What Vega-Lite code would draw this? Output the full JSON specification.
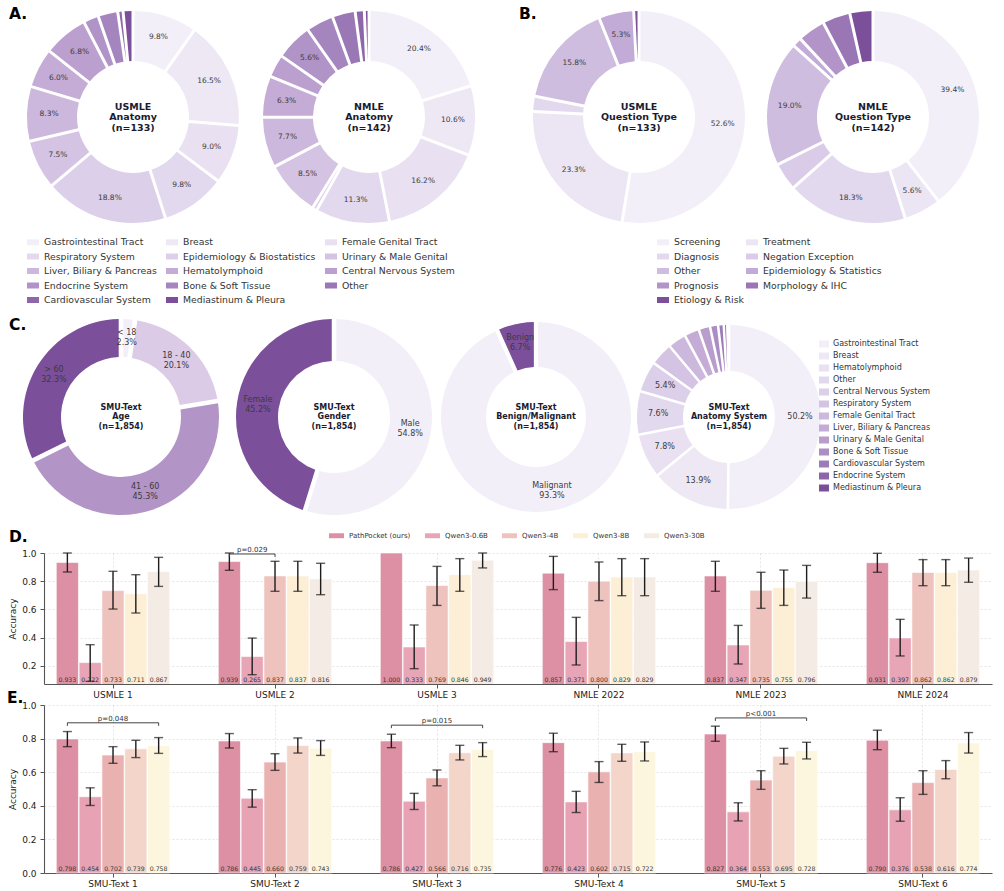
{
  "$schema": "https://vega.github.io/schema/vega-lite/v6.json",
  "padding": {"left": 7, "top": 2, "right": 4, "bottom": 2},
  "background": "white",
  "config": {
    "font": "DejaVu Sans",
    "view": {"stroke": null},
    "title": {"fontWeight": "bold", "color": "#000000", "fontSize": 15.5},
    "axis": {"labelFontSize": 9, "titleFontSize": 9, "titleFontWeight": "normal", "labelColor": "#222222", "titleColor": "#222222", "domainColor": "#555555", "domainWidth": 1.1, "tickColor": "#555555", "tickSize": 4, "gridColor": "#d4d4d4", "gridDash": [2, 2], "gridWidth": 0.6},
    "legend": {"labelColor": "#333333", "symbolStrokeWidth": 0, "symbolOpacity": 1}
  },
  "datasets": {
    "usmleAnat": [
      {"cat": "Gastrointestinal Tract", "share": 0.098},
      {"cat": "Breast", "share": 0.165},
      {"cat": "Female Genital Tract", "share": 0.090},
      {"cat": "Respiratory System", "share": 0.098},
      {"cat": "Epidemiology & Biostatistics", "share": 0.188},
      {"cat": "Urinary & Male Genital", "share": 0.075},
      {"cat": "Liver, Biliary & Pancreas", "share": 0.083},
      {"cat": "Hematolymphoid", "share": 0.060},
      {"cat": "Central Nervous System", "share": 0.068},
      {"cat": "Endocrine System", "share": 0.023},
      {"cat": "Bone & Soft Tissue", "share": 0.030},
      {"cat": "Cardiovascular System", "share": 0.008},
      {"cat": "Mediastinum & Pleura", "share": 0.015}
    ],
    "nmleAnat": [
      {"cat": "Gastrointestinal Tract", "share": 0.204},
      {"cat": "Breast", "share": 0.106},
      {"cat": "Female Genital Tract", "share": 0.162},
      {"cat": "Respiratory System", "share": 0.113},
      {"cat": "Epidemiology & Biostatistics", "share": 0.007},
      {"cat": "Urinary & Male Genital", "share": 0.085},
      {"cat": "Liver, Biliary & Pancreas", "share": 0.077},
      {"cat": "Hematolymphoid", "share": 0.063},
      {"cat": "Central Nervous System", "share": 0.035},
      {"cat": "Endocrine System", "share": 0.056},
      {"cat": "Bone & Soft Tissue", "share": 0.042},
      {"cat": "Other", "share": 0.035},
      {"cat": "Cardiovascular System", "share": 0.014},
      {"cat": "Mediastinum & Pleura", "share": 0.007}
    ],
    "usmleQT": [
      {"cat": "Screening", "share": 0.526},
      {"cat": "Treatment", "share": 0.233},
      {"cat": "Diagnosis", "share": 0.023},
      {"cat": "Other", "share": 0.158},
      {"cat": "Epidemiology & Statistics", "share": 0.053},
      {"cat": "Etiology & Risk", "share": 0.008}
    ],
    "nmleQT": [
      {"cat": "Screening", "share": 0.394},
      {"cat": "Treatment", "share": 0.056},
      {"cat": "Diagnosis", "share": 0.183},
      {"cat": "Negation Exception", "share": 0.042},
      {"cat": "Other", "share": 0.190},
      {"cat": "Epidemiology & Statistics", "share": 0.014},
      {"cat": "Prognosis", "share": 0.042},
      {"cat": "Morphology & IHC", "share": 0.042},
      {"cat": "Etiology & Risk", "share": 0.035}
    ],
    "age": [
      {"cat": "< 18", "share": 0.023},
      {"cat": "18 - 40", "share": 0.201},
      {"cat": "41 - 60", "share": 0.453},
      {"cat": "> 60", "share": 0.323}
    ],
    "gender": [
      {"cat": "Male", "share": 0.548},
      {"cat": "Female", "share": 0.452}
    ],
    "benign": [
      {"cat": "Malignant", "share": 0.933},
      {"cat": "Benign", "share": 0.067}
    ],
    "smuAnat": [
      {"cat": "Gastrointestinal Tract", "share": 0.502},
      {"cat": "Breast", "share": 0.139},
      {"cat": "Hematolymphoid", "share": 0.078},
      {"cat": "Other", "share": 0.076},
      {"cat": "Central Nervous System", "share": 0.054},
      {"cat": "Respiratory System", "share": 0.040},
      {"cat": "Female Genital Tract", "share": 0.032},
      {"cat": "Liver, Biliary & Pancreas", "share": 0.026},
      {"cat": "Urinary & Male Genital", "share": 0.020},
      {"cat": "Bone & Soft Tissue", "share": 0.014},
      {"cat": "Cardiovascular System", "share": 0.010},
      {"cat": "Endocrine System", "share": 0.006},
      {"cat": "Mediastinum & Pleura", "share": 0.003}
    ],
    "accD": [
      {"set": "USMLE 1", "model": "PathPocket (ours)", "acc": 0.933, "lo": 0.865, "hi": 1.0},
      {"set": "USMLE 1", "model": "Qwen3-0.6B", "acc": 0.222, "lo": 0.089, "hi": 0.349},
      {"set": "USMLE 1", "model": "Qwen3-4B", "acc": 0.733, "lo": 0.602, "hi": 0.870},
      {"set": "USMLE 1", "model": "Qwen3-8B", "acc": 0.711, "lo": 0.574, "hi": 0.846},
      {"set": "USMLE 1", "model": "Qwen3-30B", "acc": 0.867, "lo": 0.763, "hi": 0.969},
      {"set": "USMLE 2", "model": "PathPocket (ours)", "acc": 0.939, "lo": 0.877, "hi": 1.0},
      {"set": "USMLE 2", "model": "Qwen3-0.6B", "acc": 0.265, "lo": 0.136, "hi": 0.396},
      {"set": "USMLE 2", "model": "Qwen3-4B", "acc": 0.837, "lo": 0.728, "hi": 0.941},
      {"set": "USMLE 2", "model": "Qwen3-8B", "acc": 0.837, "lo": 0.728, "hi": 0.941},
      {"set": "USMLE 2", "model": "Qwen3-30B", "acc": 0.816, "lo": 0.704, "hi": 0.927},
      {"set": "USMLE 3", "model": "PathPocket (ours)", "acc": 1.0, "lo": null, "hi": null},
      {"set": "USMLE 3", "model": "Qwen3-0.6B", "acc": 0.333, "lo": 0.179, "hi": 0.489},
      {"set": "USMLE 3", "model": "Qwen3-4B", "acc": 0.769, "lo": 0.628, "hi": 0.905},
      {"set": "USMLE 3", "model": "Qwen3-8B", "acc": 0.846, "lo": 0.728, "hi": 0.960},
      {"set": "USMLE 3", "model": "Qwen3-30B", "acc": 0.949, "lo": 0.894, "hi": 1.0},
      {"set": "NMLE 2022", "model": "PathPocket (ours)", "acc": 0.857, "lo": 0.740, "hi": 0.976},
      {"set": "NMLE 2022", "model": "Qwen3-0.6B", "acc": 0.371, "lo": 0.205, "hi": 0.543},
      {"set": "NMLE 2022", "model": "Qwen3-4B", "acc": 0.800, "lo": 0.662, "hi": 0.936},
      {"set": "NMLE 2022", "model": "Qwen3-8B", "acc": 0.829, "lo": 0.697, "hi": 0.960},
      {"set": "NMLE 2022", "model": "Qwen3-30B", "acc": 0.829, "lo": 0.697, "hi": 0.960},
      {"set": "NMLE 2023", "model": "PathPocket (ours)", "acc": 0.837, "lo": 0.728, "hi": 0.941},
      {"set": "NMLE 2023", "model": "Qwen3-0.6B", "acc": 0.347, "lo": 0.212, "hi": 0.486},
      {"set": "NMLE 2023", "model": "Qwen3-4B", "acc": 0.735, "lo": 0.607, "hi": 0.863},
      {"set": "NMLE 2023", "model": "Qwen3-8B", "acc": 0.755, "lo": 0.628, "hi": 0.879},
      {"set": "NMLE 2023", "model": "Qwen3-30B", "acc": 0.796, "lo": 0.680, "hi": 0.912},
      {"set": "NMLE 2024", "model": "PathPocket (ours)", "acc": 0.931, "lo": 0.863, "hi": 0.998},
      {"set": "NMLE 2024", "model": "Qwen3-0.6B", "acc": 0.397, "lo": 0.269, "hi": 0.529},
      {"set": "NMLE 2024", "model": "Qwen3-4B", "acc": 0.862, "lo": 0.768, "hi": 0.953},
      {"set": "NMLE 2024", "model": "Qwen3-8B", "acc": 0.862, "lo": 0.768, "hi": 0.953},
      {"set": "NMLE 2024", "model": "Qwen3-30B", "acc": 0.879, "lo": 0.792, "hi": 0.964}
    ],
    "accE": [
      {"set": "SMU-Text 1", "model": "PathPocket (ours)", "acc": 0.798, "lo": 0.752, "hi": 0.842},
      {"set": "SMU-Text 1", "model": "Qwen3-0.6B", "acc": 0.454, "lo": 0.402, "hi": 0.507},
      {"set": "SMU-Text 1", "model": "Qwen3-4B", "acc": 0.702, "lo": 0.653, "hi": 0.752},
      {"set": "SMU-Text 1", "model": "Qwen3-8B", "acc": 0.739, "lo": 0.687, "hi": 0.790},
      {"set": "SMU-Text 1", "model": "Qwen3-30B", "acc": 0.758, "lo": 0.712, "hi": 0.806},
      {"set": "SMU-Text 2", "model": "PathPocket (ours)", "acc": 0.786, "lo": 0.744, "hi": 0.830},
      {"set": "SMU-Text 2", "model": "Qwen3-0.6B", "acc": 0.445, "lo": 0.392, "hi": 0.496},
      {"set": "SMU-Text 2", "model": "Qwen3-4B", "acc": 0.660, "lo": 0.611, "hi": 0.710},
      {"set": "SMU-Text 2", "model": "Qwen3-8B", "acc": 0.759, "lo": 0.714, "hi": 0.804},
      {"set": "SMU-Text 2", "model": "Qwen3-30B", "acc": 0.743, "lo": 0.700, "hi": 0.788},
      {"set": "SMU-Text 3", "model": "PathPocket (ours)", "acc": 0.786, "lo": 0.746, "hi": 0.826},
      {"set": "SMU-Text 3", "model": "Qwen3-0.6B", "acc": 0.427, "lo": 0.378, "hi": 0.474},
      {"set": "SMU-Text 3", "model": "Qwen3-4B", "acc": 0.566, "lo": 0.519, "hi": 0.613},
      {"set": "SMU-Text 3", "model": "Qwen3-8B", "acc": 0.716, "lo": 0.673, "hi": 0.760},
      {"set": "SMU-Text 3", "model": "Qwen3-30B", "acc": 0.735, "lo": 0.693, "hi": 0.776},
      {"set": "SMU-Text 4", "model": "PathPocket (ours)", "acc": 0.776, "lo": 0.722, "hi": 0.832},
      {"set": "SMU-Text 4", "model": "Qwen3-0.6B", "acc": 0.423, "lo": 0.360, "hi": 0.486},
      {"set": "SMU-Text 4", "model": "Qwen3-4B", "acc": 0.602, "lo": 0.539, "hi": 0.663},
      {"set": "SMU-Text 4", "model": "Qwen3-8B", "acc": 0.715, "lo": 0.665, "hi": 0.766},
      {"set": "SMU-Text 4", "model": "Qwen3-30B", "acc": 0.722, "lo": 0.667, "hi": 0.780},
      {"set": "SMU-Text 5", "model": "PathPocket (ours)", "acc": 0.827, "lo": 0.784, "hi": 0.874},
      {"set": "SMU-Text 5", "model": "Qwen3-0.6B", "acc": 0.364, "lo": 0.310, "hi": 0.418},
      {"set": "SMU-Text 5", "model": "Qwen3-4B", "acc": 0.553, "lo": 0.498, "hi": 0.609},
      {"set": "SMU-Text 5", "model": "Qwen3-8B", "acc": 0.695, "lo": 0.649, "hi": 0.742},
      {"set": "SMU-Text 5", "model": "Qwen3-30B", "acc": 0.728, "lo": 0.679, "hi": 0.778},
      {"set": "SMU-Text 6", "model": "PathPocket (ours)", "acc": 0.790, "lo": 0.734, "hi": 0.850},
      {"set": "SMU-Text 6", "model": "Qwen3-0.6B", "acc": 0.376, "lo": 0.308, "hi": 0.448},
      {"set": "SMU-Text 6", "model": "Qwen3-4B", "acc": 0.538, "lo": 0.468, "hi": 0.609},
      {"set": "SMU-Text 6", "model": "Qwen3-8B", "acc": 0.616, "lo": 0.561, "hi": 0.669},
      {"set": "SMU-Text 6", "model": "Qwen3-30B", "acc": 0.774, "lo": 0.714, "hi": 0.836}
    ],
    "brkD": [
      {"set": "USMLE 2", "model": "PathPocket (ours)", "top": 0.993, "foot": 0.972},
      {"set": "USMLE 2", "model": "Qwen3-4B", "top": 0.993, "foot": 0.972}
    ],
    "pD": [
      {"set": "USMLE 2", "model": "Qwen3-0.6B", "top": 0.993, "p": "p=0.029"}
    ],
    "brkE": [
      {"set": "SMU-Text 1", "model": "PathPocket (ours)", "top": 0.894, "foot": 0.876},
      {"set": "SMU-Text 1", "model": "Qwen3-30B", "top": 0.894, "foot": 0.876},
      {"set": "SMU-Text 3", "model": "PathPocket (ours)", "top": 0.880, "foot": 0.862},
      {"set": "SMU-Text 3", "model": "Qwen3-30B", "top": 0.880, "foot": 0.862},
      {"set": "SMU-Text 5", "model": "PathPocket (ours)", "top": 0.923, "foot": 0.905},
      {"set": "SMU-Text 5", "model": "Qwen3-30B", "top": 0.923, "foot": 0.905}
    ],
    "pE": [
      {"set": "SMU-Text 1", "model": "Qwen3-4B", "top": 0.894, "p": "p=0.048"},
      {"set": "SMU-Text 3", "model": "Qwen3-4B", "top": 0.880, "p": "p=0.015"},
      {"set": "SMU-Text 5", "model": "Qwen3-4B", "top": 0.923, "p": "p<0.001"}
    ]
  },
  "spacing": 11,
  "resolve": {"scale": {"color": "independent"}},
  "vconcat": [
    {
      "hconcat": [
        {
          "width": 178, "height": 230,
          "title": {"text": "A.", "anchor": "start", "frame": "group", "dx": -35, "offset": -20},
          "layer": [
            {
              "data": {"name": "usmleAnat"},
              "transform": [{"window": [{"op": "row_number", "as": "k"}]}],
              "mark": {"type": "arc", "innerRadius": 56, "outerRadius": 106, "padAngle": 0.025},
              "encoding": {
                "theta": {"field": "share", "type": "quantitative", "stack": true},
                "order": {"field": "k", "type": "quantitative"},
                "color": {"field": "cat", "type": "nominal",
                  "scale": {"domain": ["Gastrointestinal Tract", "Breast", "Female Genital Tract", "Respiratory System", "Epidemiology & Biostatistics", "Urinary & Male Genital", "Liver, Biliary & Pancreas", "Hematolymphoid", "Central Nervous System", "Endocrine System", "Bone & Soft Tissue", "Other", "Cardiovascular System", "Mediastinum & Pleura"],
                    "range": ["#f3eff9", "#eee8f5", "#e9e1f2", "#e3d9ee", "#dccfe9", "#d4c3e3", "#ccb8dd", "#c4acd6", "#ba9fcf", "#b093c7", "#a585be", "#9a77b5", "#8d67aa", "#7b4f99"]},
                  "legend": {"orient": "none", "legendX": -17, "legendY": 234, "direction": "horizontal", "columns": 3, "title": null, "symbolType": "M-1,-0.5H1V0.5H-1Z", "symbolSize": 144, "labelFontSize": 9.3, "columnPadding": 9, "rowPadding": 2.5, "labelOffset": 5, "labelLimit": 300}}
              }
            },
            {
              "data": {"name": "usmleAnat"},
              "transform": [{"window": [{"op": "row_number", "as": "k"}]}],
              "mark": {"type": "text", "radius": 84, "fontSize": 7.5, "color": "#3b3b3b"},
              "encoding": {
                "theta": {"field": "share", "type": "quantitative", "stack": true},
                "order": {"field": "k", "type": "quantitative"},
                "text": {"condition": {"test": "datum.share < 0.05", "value": ""}, "field": "share", "type": "quantitative", "format": ".1%"}
              }
            },
            {
              "data": {"values": [{"label": "USMLE\nAnatomy\n(n=133)"}]},
              "mark": {"type": "text", "fontSize": 9.5, "fontWeight": "bold", "color": "#1b1b2f", "lineBreak": "\n", "lineHeight": 10.5, "dy": -10.5, "baseline": "middle"},
              "encoding": {"text": {"field": "label"}}
            }
          ]
        },
        {
          "width": 282, "height": 230,
          "layer": [
            {
              "data": {"name": "nmleAnat"},
              "transform": [{"window": [{"op": "row_number", "as": "k"}]}],
              "mark": {"type": "arc", "innerRadius": 56, "outerRadius": 106, "padAngle": 0.025},
              "encoding": {
                "theta": {"field": "share", "type": "quantitative", "stack": true},
                "order": {"field": "k", "type": "quantitative"},
                "color": {"field": "cat", "type": "nominal",
                  "scale": {"domain": ["Gastrointestinal Tract", "Breast", "Female Genital Tract", "Respiratory System", "Epidemiology & Biostatistics", "Urinary & Male Genital", "Liver, Biliary & Pancreas", "Hematolymphoid", "Central Nervous System", "Endocrine System", "Bone & Soft Tissue", "Other", "Cardiovascular System", "Mediastinum & Pleura"],
                    "range": ["#f3eff9", "#eee8f5", "#e9e1f2", "#e3d9ee", "#dccfe9", "#d4c3e3", "#ccb8dd", "#c4acd6", "#ba9fcf", "#b093c7", "#a585be", "#9a77b5", "#8d67aa", "#7b4f99"]},
                  "legend": null}
              }
            },
            {
              "data": {"name": "nmleAnat"},
              "transform": [{"window": [{"op": "row_number", "as": "k"}]}],
              "mark": {"type": "text", "radius": 84, "fontSize": 7.5, "color": "#3b3b3b"},
              "encoding": {
                "theta": {"field": "share", "type": "quantitative", "stack": true},
                "order": {"field": "k", "type": "quantitative"},
                "text": {"condition": {"test": "datum.share < 0.05", "value": ""}, "field": "share", "type": "quantitative", "format": ".1%"}
              }
            },
            {
              "data": {"values": [{"label": "NMLE\nAnatomy\n(n=142)"}]},
              "mark": {"type": "text", "fontSize": 9.5, "fontWeight": "bold", "color": "#1b1b2f", "lineBreak": "\n", "lineHeight": 10.5, "dy": -10.5, "baseline": "middle"},
              "encoding": {"text": {"field": "label"}}
            }
          ]
        },
        {
          "width": 246, "height": 230,
          "title": {"text": "B.", "anchor": "start", "frame": "group", "dx": 3, "offset": -20},
          "layer": [
            {
              "data": {"name": "usmleQT"},
              "transform": [{"window": [{"op": "row_number", "as": "k"}]}],
              "mark": {"type": "arc", "innerRadius": 56, "outerRadius": 106, "padAngle": 0.025},
              "encoding": {
                "theta": {"field": "share", "type": "quantitative", "stack": true},
                "order": {"field": "k", "type": "quantitative"},
                "color": {"field": "cat", "type": "nominal",
                  "scale": {"domain": ["Screening", "Treatment", "Diagnosis", "Negation Exception", "Other", "Epidemiology & Statistics", "Prognosis", "Morphology & IHC", "Etiology & Risk"],
                    "range": ["#f3eff9", "#ece5f4", "#e3d9ee", "#dacce8", "#cfbde0", "#c2abd6", "#b294c8", "#9a76b4", "#7b4f99"]},
                  "legend": {"orient": "none", "legendX": 141, "legendY": 234, "direction": "horizontal", "columns": 2, "title": null, "symbolType": "M-1,-0.5H1V0.5H-1Z", "symbolSize": 144, "labelFontSize": 9.3, "columnPadding": 2, "rowPadding": 2.5, "labelOffset": 5, "labelLimit": 300}}
              }
            },
            {
              "data": {"name": "usmleQT"},
              "transform": [{"window": [{"op": "row_number", "as": "k"}]}],
              "mark": {"type": "text", "radius": 84, "fontSize": 7.5, "color": "#3b3b3b"},
              "encoding": {
                "theta": {"field": "share", "type": "quantitative", "stack": true},
                "order": {"field": "k", "type": "quantitative"},
                "text": {"condition": {"test": "datum.share < 0.05", "value": ""}, "field": "share", "type": "quantitative", "format": ".1%"}
              }
            },
            {
              "data": {"values": [{"label": "USMLE\nQuestion Type\n(n=133)"}]},
              "mark": {"type": "text", "fontSize": 9.5, "fontWeight": "bold", "color": "#1b1b2f", "lineBreak": "\n", "lineHeight": 10.5, "dy": -10.5, "baseline": "middle"},
              "encoding": {"text": {"field": "label"}}
            }
          ]
        },
        {
          "width": 210, "height": 230,
          "layer": [
            {
              "data": {"name": "nmleQT"},
              "transform": [{"window": [{"op": "row_number", "as": "k"}]}],
              "mark": {"type": "arc", "innerRadius": 56, "outerRadius": 106, "padAngle": 0.025},
              "encoding": {
                "theta": {"field": "share", "type": "quantitative", "stack": true},
                "order": {"field": "k", "type": "quantitative"},
                "color": {"field": "cat", "type": "nominal",
                  "scale": {"domain": ["Screening", "Treatment", "Diagnosis", "Negation Exception", "Other", "Epidemiology & Statistics", "Prognosis", "Morphology & IHC", "Etiology & Risk"],
                    "range": ["#f3eff9", "#ece5f4", "#e3d9ee", "#dacce8", "#cfbde0", "#c2abd6", "#b294c8", "#9a76b4", "#7b4f99"]},
                  "legend": null}
              }
            },
            {
              "data": {"name": "nmleQT"},
              "transform": [{"window": [{"op": "row_number", "as": "k"}]}],
              "mark": {"type": "text", "radius": 84, "fontSize": 7.5, "color": "#3b3b3b"},
              "encoding": {
                "theta": {"field": "share", "type": "quantitative", "stack": true},
                "order": {"field": "k", "type": "quantitative"},
                "text": {"condition": {"test": "datum.share < 0.05", "value": ""}, "field": "share", "type": "quantitative", "format": ".1%"}
              }
            },
            {
              "data": {"values": [{"label": "NMLE\nQuestion Type\n(n=142)"}]},
              "mark": {"type": "text", "fontSize": 9.5, "fontWeight": "bold", "color": "#1b1b2f", "lineBreak": "\n", "lineHeight": 10.5, "dy": -10.5, "baseline": "middle"},
              "encoding": {"text": {"field": "label"}}
            }
          ]
        }
      ],
      "spacing": 6,
      "bounds": "flush",
      "resolve": {"scale": {"color": "independent"}}
    },
    {
      "hconcat": [
        {
          "width": 154, "height": 200,
          "title": {"text": "C.", "anchor": "start", "frame": "group", "dx": -35, "offset": -16},
          "layer": [
            {
              "data": {"name": "age"},
              "transform": [{"window": [{"op": "row_number", "as": "k"}]}],
              "mark": {"type": "arc", "innerRadius": 60, "outerRadius": 98, "padAngle": 0.04},
              "encoding": {
                "theta": {"field": "share", "type": "quantitative", "stack": true},
                "order": {"field": "k", "type": "quantitative"},
                "color": {"field": "cat", "type": "nominal", "scale": {"domain": ["< 18", "18 - 40", "41 - 60", "> 60"], "range": ["#f3eff9", "#dccbe6", "#b294c7", "#7b4f99"]}, "legend": null}
              }
            },
            {
              "data": {"name": "age"},
              "transform": [{"window": [{"op": "row_number", "as": "k"}]}, {"calculate": "datum.cat + '\\n' + format(datum.share, '.1%')", "as": "lbl"}],
              "mark": {"type": "text", "radius": 79, "fontSize": 8, "color": "#3b3b3b", "lineBreak": "\n", "lineHeight": 10, "dy": -5},
              "encoding": {
                "theta": {"field": "share", "type": "quantitative", "stack": true},
                "order": {"field": "k", "type": "quantitative"},
                "text": {"field": "lbl"}
              }
            },
            {
              "data": {"values": [{"label": "SMU-Text\nAge\n(n=1,854)"}]},
              "mark": {"type": "text", "fontSize": 8, "fontWeight": "bold", "color": "#1b1b2f", "lineBreak": "\n", "lineHeight": 9.5, "dy": -9.5, "baseline": "middle"},
              "encoding": {"text": {"field": "label"}}
            }
          ]
        },
        {
          "width": 256, "height": 200,
          "layer": [
            {
              "data": {"name": "gender"},
              "transform": [{"window": [{"op": "row_number", "as": "k"}]}],
              "mark": {"type": "arc", "innerRadius": 56, "outerRadius": 98, "padAngle": 0.04},
              "encoding": {
                "theta": {"field": "share", "type": "quantitative", "stack": true},
                "order": {"field": "k", "type": "quantitative"},
                "color": {"field": "cat", "type": "nominal", "scale": {"domain": ["Male", "Female"], "range": ["#f3eff9", "#7b4f99"]}, "legend": null}
              }
            },
            {
              "data": {"name": "gender"},
              "transform": [{"window": [{"op": "row_number", "as": "k"}]}, {"calculate": "datum.cat + '\\n' + format(datum.share, '.1%')", "as": "lbl"}],
              "mark": {"type": "text", "radius": 77, "fontSize": 8, "color": "#3b3b3b", "lineBreak": "\n", "lineHeight": 10, "dy": -5},
              "encoding": {
                "theta": {"field": "share", "type": "quantitative", "stack": true},
                "order": {"field": "k", "type": "quantitative"},
                "text": {"field": "lbl"}
              }
            },
            {
              "data": {"values": [{"label": "SMU-Text\nGender\n(n=1,854)"}]},
              "mark": {"type": "text", "fontSize": 8, "fontWeight": "bold", "color": "#1b1b2f", "lineBreak": "\n", "lineHeight": 9.5, "dy": -9.5, "baseline": "middle"},
              "encoding": {"text": {"field": "label"}}
            }
          ]
        },
        {
          "width": 132, "height": 200,
          "layer": [
            {
              "data": {"name": "benign"},
              "transform": [{"window": [{"op": "row_number", "as": "k"}]}],
              "mark": {"type": "arc", "innerRadius": 50, "outerRadius": 95, "padAngle": 0.04},
              "encoding": {
                "theta": {"field": "share", "type": "quantitative", "stack": true},
                "order": {"field": "k", "type": "quantitative"},
                "color": {"field": "cat", "type": "nominal", "scale": {"domain": ["Malignant", "Benign"], "range": ["#f3eff9", "#7b4f99"]}, "legend": null}
              }
            },
            {
              "data": {"name": "benign"},
              "transform": [{"window": [{"op": "row_number", "as": "k"}]}, {"calculate": "datum.cat + '\\n' + format(datum.share, '.1%')", "as": "lbl"}],
              "mark": {"type": "text", "radius": 76, "fontSize": 8, "color": "#3b3b3b", "lineBreak": "\n", "lineHeight": 10, "dy": -5},
              "encoding": {
                "theta": {"field": "share", "type": "quantitative", "stack": true},
                "order": {"field": "k", "type": "quantitative"},
                "text": {"field": "lbl"}
              }
            },
            {
              "data": {"values": [{"label": "SMU-Text\nBenign/Malignant\n(n=1,854)"}]},
              "mark": {"type": "text", "fontSize": 8, "fontWeight": "bold", "color": "#1b1b2f", "lineBreak": "\n", "lineHeight": 9.5, "dy": -9.5, "baseline": "middle"},
              "encoding": {"text": {"field": "label"}}
            }
          ]
        },
        {
          "width": 238, "height": 200,
          "layer": [
            {
              "data": {"name": "smuAnat"},
              "transform": [{"window": [{"op": "row_number", "as": "k"}]}],
              "mark": {"type": "arc", "innerRadius": 46, "outerRadius": 92, "padAngle": 0.025},
              "encoding": {
                "theta": {"field": "share", "type": "quantitative", "stack": true},
                "order": {"field": "k", "type": "quantitative"},
                "color": {"field": "cat", "type": "nominal",
                  "scale": {"domain": ["Gastrointestinal Tract", "Breast", "Hematolymphoid", "Other", "Central Nervous System", "Respiratory System", "Female Genital Tract", "Liver, Biliary & Pancreas", "Urinary & Male Genital", "Bone & Soft Tissue", "Cardiovascular System", "Endocrine System", "Mediastinum & Pleura"],
                    "range": ["#f3eff9", "#eee8f5", "#e9e1f2", "#e3d9ee", "#dccfe9", "#d4c3e3", "#ccb8dd", "#c4acd6", "#b89dcd", "#ab8cc3", "#9d7bb8", "#8d66aa", "#7b4f99"]},
                  "legend": {"orient": "none", "legendX": 209, "legendY": 22, "direction": "vertical", "title": null, "symbolType": "M-1,-0.7H1V0.7H-1Z", "symbolSize": 100, "labelFontSize": 8, "rowPadding": 3, "labelOffset": 4, "labelLimit": 300}}
              }
            },
            {
              "data": {"name": "smuAnat"},
              "transform": [{"window": [{"op": "row_number", "as": "k"}]}],
              "mark": {"type": "text", "radius": 71, "fontSize": 8, "color": "#3b3b3b"},
              "encoding": {
                "theta": {"field": "share", "type": "quantitative", "stack": true},
                "order": {"field": "k", "type": "quantitative"},
                "text": {"condition": {"test": "datum.share < 0.05", "value": ""}, "field": "share", "type": "quantitative", "format": ".1%"}
              }
            },
            {
              "data": {"values": [{"label": "SMU-Text\nAnatomy System\n(n=1,854)"}]},
              "mark": {"type": "text", "fontSize": 8, "fontWeight": "bold", "color": "#1b1b2f", "lineBreak": "\n", "lineHeight": 9.5, "dy": -9.5, "baseline": "middle"},
              "encoding": {"text": {"field": "label"}}
            }
          ]
        }
      ],
      "spacing": 8,
      "bounds": "flush",
      "resolve": {"scale": {"color": "independent"}}
    },
    {
      "vconcat": [
        {
          "width": 948, "height": 131,
          "title": {"text": "D.", "anchor": "start", "frame": "group", "dx": -35, "offset": -17},
          "encoding": {
            "x": {"field": "set", "type": "nominal", "title": null,
              "scale": {"domain": ["USMLE 1", "USMLE 2", "USMLE 3", "NMLE 2022", "NMLE 2023", "NMLE 2024"], "paddingInner": 0.3, "paddingOuter": 0.076},
              "axis": {"labelAngle": 0, "labelPadding": 2, "grid": true, "bandPosition": 0.5}},
            "xOffset": {"field": "model", "type": "nominal", "scale": {"domain": ["PathPocket (ours)", "Qwen3-0.6B", "Qwen3-4B", "Qwen3-8B", "Qwen3-30B"], "paddingInner": 0.03}}
          },
          "layer": [
            {
              "data": {"name": "accD"},
              "mark": {"type": "bar", "clip": true, "stroke": "white", "strokeWidth": 0.6},
              "encoding": {
                "y": {"field": "acc", "type": "quantitative", "title": "Accuracy", "scale": {"domain": [0.07, 1.0], "nice": false, "zero": false}, "axis": {"values": [0.2, 0.4, 0.6, 0.8, 1.0], "format": ".1f", "grid": true, "labelPadding": 4, "titlePadding": 4, "labelOverlap": false, "labelFlush": false}},
                "color": {"field": "model", "type": "nominal", "scale": {"domain": ["PathPocket (ours)", "Qwen3-0.6B", "Qwen3-4B", "Qwen3-8B", "Qwen3-30B"], "range": ["#dd8fa3", "#e8a5b5", "#eec2bd", "#fdefd6", "#f3ebe4"]},
                  "legend": {"orient": "none", "legendX": 285, "legendY": -25, "direction": "horizontal", "title": null, "symbolType": "M-1,-0.33H1V0.33H-1Z", "symbolSize": 225, "labelFontSize": 7, "columnPadding": 14, "labelOffset": 5}}
              }
            },
            {
              "data": {"name": "accD"},
              "mark": {"type": "rule", "color": "#1c1c1c", "strokeWidth": 1.4},
              "encoding": {"y": {"field": "lo", "type": "quantitative", "title": "Accuracy", "axis": {"values": [0.2, 0.4, 0.6, 0.8, 1.0], "format": ".1f", "grid": true, "labelPadding": 4, "titlePadding": 4, "labelOverlap": false, "labelFlush": false}}, "y2": {"field": "hi"}}
            },
            {
              "data": {"name": "accD"},
              "mark": {"type": "tick", "color": "#1c1c1c", "thickness": 1.4, "size": 9},
              "encoding": {"y": {"field": "lo", "type": "quantitative", "title": "Accuracy", "axis": {"values": [0.2, 0.4, 0.6, 0.8, 1.0], "format": ".1f", "grid": true, "labelPadding": 4, "titlePadding": 4, "labelOverlap": false, "labelFlush": false}}}
            },
            {
              "data": {"name": "accD"},
              "mark": {"type": "tick", "color": "#1c1c1c", "thickness": 1.4, "size": 9},
              "encoding": {"y": {"field": "hi", "type": "quantitative", "title": "Accuracy", "axis": {"values": [0.2, 0.4, 0.6, 0.8, 1.0], "format": ".1f", "grid": true, "labelPadding": 4, "titlePadding": 4, "labelOverlap": false, "labelFlush": false}}}
            },
            {
              "data": {"name": "accD"},
              "mark": {"type": "text", "fontSize": 6.2, "color": "#333333"},
              "encoding": {"y": {"datum": 0.1, "title": "Accuracy", "axis": {"values": [0.2, 0.4, 0.6, 0.8, 1.0], "format": ".1f", "grid": true, "labelPadding": 4, "titlePadding": 4, "labelOverlap": false, "labelFlush": false}}, "text": {"field": "acc", "type": "quantitative", "format": ".3f"}}
            },
            {
              "data": {"name": "brkD"},
              "mark": {"type": "line", "color": "#444444", "strokeWidth": 1},
              "encoding": {"y": {"field": "top", "type": "quantitative", "title": "Accuracy", "axis": {"values": [0.2, 0.4, 0.6, 0.8, 1.0], "format": ".1f", "grid": true, "labelPadding": 4, "titlePadding": 4, "labelOverlap": false, "labelFlush": false}}, "detail": {"field": "set"}}
            },
            {
              "data": {"name": "brkD"},
              "mark": {"type": "rule", "color": "#444444", "strokeWidth": 1},
              "encoding": {"y": {"field": "foot", "type": "quantitative", "title": "Accuracy", "axis": {"values": [0.2, 0.4, 0.6, 0.8, 1.0], "format": ".1f", "grid": true, "labelPadding": 4, "titlePadding": 4, "labelOverlap": false, "labelFlush": false}}, "y2": {"field": "top"}}
            },
            {
              "data": {"name": "pD"},
              "mark": {"type": "text", "fontSize": 7, "color": "#333333", "baseline": "bottom", "dy": -1},
              "encoding": {"y": {"field": "top", "type": "quantitative", "title": "Accuracy", "axis": {"values": [0.2, 0.4, 0.6, 0.8, 1.0], "format": ".1f", "grid": true, "labelPadding": 4, "titlePadding": 4, "labelOverlap": false, "labelFlush": false}}, "text": {"field": "p"}}
            }
          ]
        },
        {
          "width": 948, "height": 168,
          "title": {"text": "E.", "anchor": "start", "frame": "group", "dx": -37, "offset": -5},
          "encoding": {
            "x": {"field": "set", "type": "nominal", "title": null,
              "scale": {"domain": ["SMU-Text 1", "SMU-Text 2", "SMU-Text 3", "SMU-Text 4", "SMU-Text 5", "SMU-Text 6"], "paddingInner": 0.3, "paddingOuter": 0.076},
              "axis": {"labelAngle": 0, "labelPadding": 2, "grid": true, "bandPosition": 0.5}},
            "xOffset": {"field": "model", "type": "nominal", "scale": {"domain": ["PathPocket (ours)", "Qwen3-0.6B", "Qwen3-4B", "Qwen3-8B", "Qwen3-30B"], "paddingInner": 0.03}}
          },
          "layer": [
            {
              "data": {"name": "accE"},
              "mark": {"type": "bar", "stroke": "white", "strokeWidth": 0.6},
              "encoding": {
                "y": {"field": "acc", "type": "quantitative", "title": "Accuracy", "scale": {"domain": [0, 1.0], "nice": false}, "axis": {"values": [0, 0.2, 0.4, 0.6, 0.8, 1.0], "format": ".1f", "grid": true, "labelPadding": 4, "titlePadding": 4, "labelOverlap": false, "labelFlush": false}},
                "color": {"field": "model", "type": "nominal", "scale": {"domain": ["PathPocket (ours)", "Qwen3-0.6B", "Qwen3-4B", "Qwen3-8B", "Qwen3-30B"], "range": ["#dd8fa3", "#e7a2b3", "#e9b2b1", "#f4d5ca", "#fdf6de"]}, "legend": null}
              }
            },
            {
              "data": {"name": "accE"},
              "mark": {"type": "rule", "color": "#1c1c1c", "strokeWidth": 1.4},
              "encoding": {"y": {"field": "lo", "type": "quantitative", "title": "Accuracy", "axis": {"values": [0, 0.2, 0.4, 0.6, 0.8, 1.0], "format": ".1f", "grid": true, "labelPadding": 4, "titlePadding": 4, "labelOverlap": false, "labelFlush": false}}, "y2": {"field": "hi"}}
            },
            {
              "data": {"name": "accE"},
              "mark": {"type": "tick", "color": "#1c1c1c", "thickness": 1.4, "size": 9},
              "encoding": {"y": {"field": "lo", "type": "quantitative", "title": "Accuracy", "axis": {"values": [0, 0.2, 0.4, 0.6, 0.8, 1.0], "format": ".1f", "grid": true, "labelPadding": 4, "titlePadding": 4, "labelOverlap": false, "labelFlush": false}}}
            },
            {
              "data": {"name": "accE"},
              "mark": {"type": "tick", "color": "#1c1c1c", "thickness": 1.4, "size": 9},
              "encoding": {"y": {"field": "hi", "type": "quantitative", "title": "Accuracy", "axis": {"values": [0, 0.2, 0.4, 0.6, 0.8, 1.0], "format": ".1f", "grid": true, "labelPadding": 4, "titlePadding": 4, "labelOverlap": false, "labelFlush": false}}}
            },
            {
              "data": {"name": "accE"},
              "mark": {"type": "text", "fontSize": 6.2, "color": "#333333"},
              "encoding": {"y": {"datum": 0.025, "title": "Accuracy", "axis": {"values": [0, 0.2, 0.4, 0.6, 0.8, 1.0], "format": ".1f", "grid": true, "labelPadding": 4, "titlePadding": 4, "labelOverlap": false, "labelFlush": false}}, "text": {"field": "acc", "type": "quantitative", "format": ".3f"}}
            },
            {
              "data": {"name": "brkE"},
              "mark": {"type": "line", "color": "#444444", "strokeWidth": 1},
              "encoding": {"y": {"field": "top", "type": "quantitative", "title": "Accuracy", "axis": {"values": [0, 0.2, 0.4, 0.6, 0.8, 1.0], "format": ".1f", "grid": true, "labelPadding": 4, "titlePadding": 4, "labelOverlap": false, "labelFlush": false}}, "detail": {"field": "set"}}
            },
            {
              "data": {"name": "brkE"},
              "mark": {"type": "rule", "color": "#444444", "strokeWidth": 1},
              "encoding": {"y": {"field": "foot", "type": "quantitative", "title": "Accuracy", "axis": {"values": [0, 0.2, 0.4, 0.6, 0.8, 1.0], "format": ".1f", "grid": true, "labelPadding": 4, "titlePadding": 4, "labelOverlap": false, "labelFlush": false}}, "y2": {"field": "top"}}
            },
            {
              "data": {"name": "pE"},
              "mark": {"type": "text", "fontSize": 7, "color": "#333333", "baseline": "bottom", "dy": -1},
              "encoding": {"y": {"field": "top", "type": "quantitative", "title": "Accuracy", "axis": {"values": [0, 0.2, 0.4, 0.6, 0.8, 1.0], "format": ".1f", "grid": true, "labelPadding": 4, "titlePadding": 4, "labelOverlap": false, "labelFlush": false}}, "text": {"field": "p"}}
            }
          ]
        }
      ],
      "spacing": -9,
      "resolve": {"scale": {"color": "independent"}}
    }
  ]
}
